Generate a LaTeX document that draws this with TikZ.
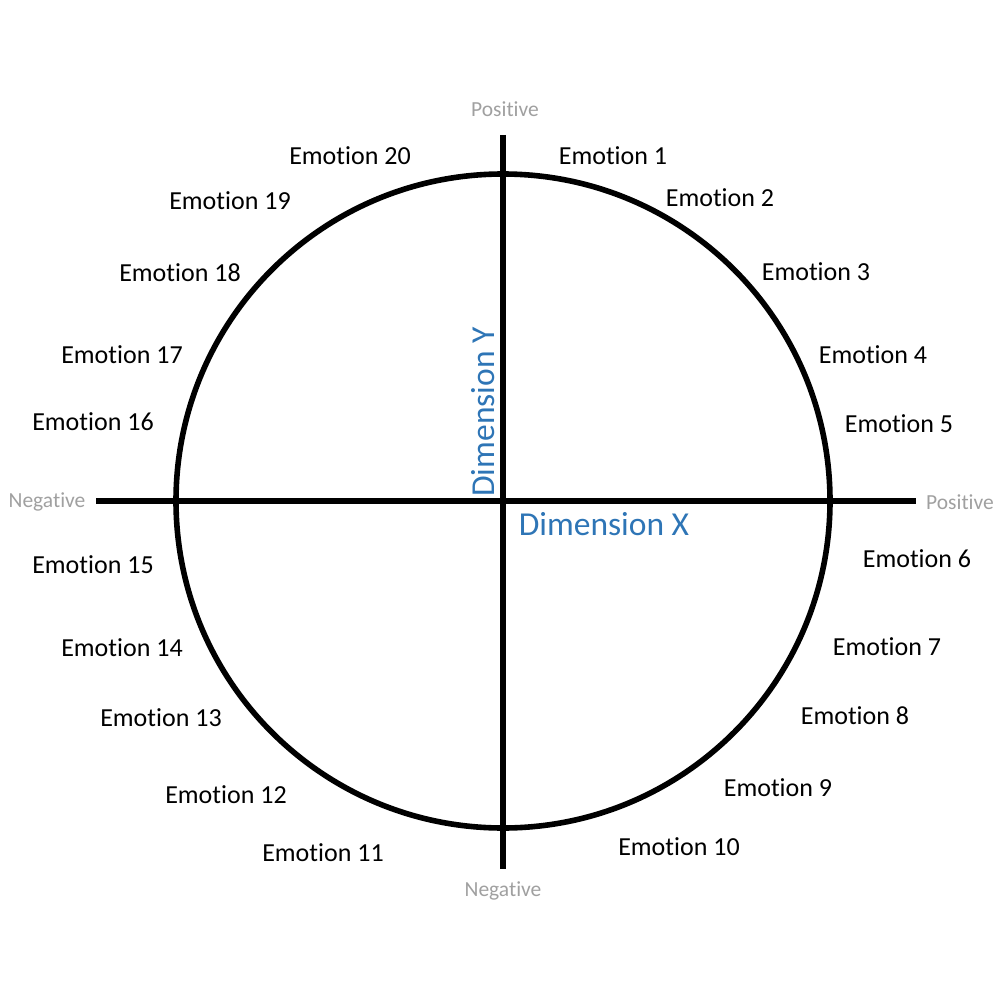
\documentclass[tikz,border=0pt]{standalone}
\usepackage{fontspec}
\setmainfont{Carlito}[Ligatures=NoCommon]
\begin{document}
\begin{tikzpicture}[x=1pt,y=-1pt,
  axis/.style={line width=5.6pt},
  emo/.style={font=\fontsize{26}{30}\selectfont, text=black, inner sep=0pt},
  pole/.style={font=\fontsize{21.5}{25}\selectfont, text={rgb,255:red,160;green,160;blue,160}, inner sep=0pt},
  dim/.style={font=\fontsize{33.5}{38}\selectfont, text={rgb,255:red,46;green,117;blue,182}, inner sep=0pt}]
\useasboundingbox (0,0) rectangle (1000,1000);
\coordinate (c) at (503,501);
\draw[axis] (c) circle[radius=327];
\coordinate (top) at (503,135);
\coordinate (bot) at (503,869);
\coordinate (lft) at (96,501);
\coordinate (rgt) at (916,501);
\draw[axis] (top) -- (bot);
\draw[axis] (lft) -- (rgt);
\node[pole] (pt) at (505,109) {Positive};
\node[pole] (nb) at (503,891) {Negative};
\node[pole] (nl) at (47,502) {Negative};
\node[pole] (pr) at (960,502) {Positive};
\node[dim, rotate=90] (dy) at (483,412) {Dimension Y};
\node[dim] (dx) at (604,524) {Dimension X};
\node[emo] (e1) at (613,156) {Emotion 1};
\node[emo] (e2) at (720,198) {Emotion 2};
\node[emo] (e3) at (816,272) {Emotion 3};
\node[emo] (e4) at (873,355) {Emotion 4};
\node[emo] (e5) at (899,424) {Emotion 5};
\node[emo] (e6) at (917,559) {Emotion 6};
\node[emo] (e7) at (887,647) {Emotion 7};
\node[emo] (e8) at (855,716) {Emotion 8};
\node[emo] (e9) at (778,788) {Emotion 9};
\node[emo] (e10) at (679,847) {Emotion 10};
\node[emo] (e11) at (323,853) {Emotion 11};
\node[emo] (e12) at (226,795) {Emotion 12};
\node[emo] (e13) at (161,718) {Emotion 13};
\node[emo] (e14) at (122,648) {Emotion 14};
\node[emo] (e15) at (93,565) {Emotion 15};
\node[emo] (e16) at (93,422) {Emotion 16};
\node[emo] (e17) at (122,355) {Emotion 17};
\node[emo] (e18) at (180,273) {Emotion 18};
\node[emo] (e19) at (230,201) {Emotion 19};
\node[emo] (e20) at (350,156) {Emotion 20};
\end{tikzpicture}
\end{document}
